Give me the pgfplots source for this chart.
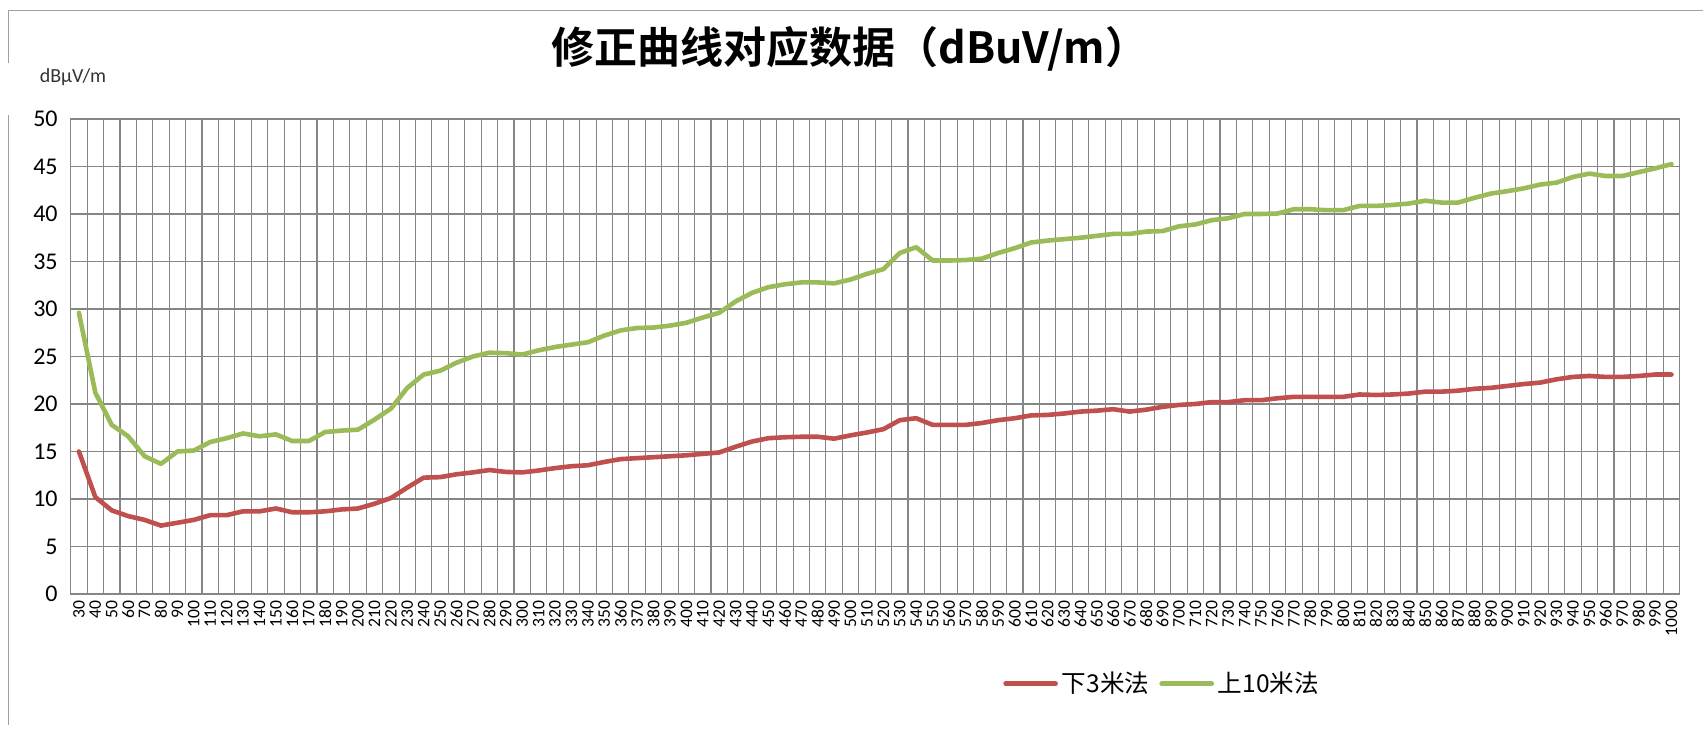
\documentclass[border=0pt]{standalone}
\usepackage{fontspec}
\setmainfont{Carlito}
\newfontfamily\cjk{Noto Sans CJK SC}
\newfontfamily\cjkb{Noto Sans CJK SC Bold}
\usepackage{pgfplots}
\pgfplotsset{compat=1.18}
\usepackage{pgfplotstable}
\definecolor{serred}{RGB}{192,80,77}
\definecolor{sergreen}{RGB}{155,187,89}
\definecolor{gridgray}{RGB}{134,134,134}
\definecolor{framegray}{RGB}{160,160,160}

\pgfplotstableread{
f red green
30 15.0 29.6
40 10.2 21.2
50 8.8 17.8
60 8.2 16.6
70 7.8 14.5
80 7.2 13.7
90 7.5 15.0
100 7.8 15.1
110 8.3 16.0
120 8.3 16.4
130 8.7 16.9
140 8.7 16.6
150 9.0 16.8
160 8.6 16.1
170 8.6 16.1
180 8.7 17.05
190 8.9 17.2
200 9.0 17.3
210 9.5 18.35
220 10.1 19.5
230 11.2 21.7
240 12.25 23.1
250 12.3 23.5
260 12.6 24.35
270 12.8 25.0
280 13.05 25.4
290 12.85 25.35
300 12.8 25.2
310 13.0 25.65
320 13.25 26.0
330 13.45 26.25
340 13.55 26.5
350 13.9 27.2
360 14.2 27.75
370 14.3 28.0
380 14.4 28.05
390 14.5 28.25
400 14.6 28.55
410 14.75 29.1
420 14.9 29.6
430 15.5 30.8
440 16.05 31.7
450 16.4 32.3
460 16.5 32.6
470 16.55 32.8
480 16.55 32.8
490 16.35 32.7
500 16.7 33.1
510 17.0 33.7
520 17.35 34.2
530 18.3 35.9
540 18.5 36.5
550 17.8 35.1
560 17.8 35.1
570 17.8 35.15
580 18.0 35.3
590 18.3 35.9
600 18.5 36.4
610 18.8 37.0
620 18.85 37.2
630 19.0 37.35
640 19.2 37.5
650 19.3 37.7
660 19.45 37.9
670 19.2 37.9
680 19.4 38.15
690 19.7 38.2
700 19.9 38.7
710 20.0 38.9
720 20.2 39.35
730 20.2 39.55
740 20.4 40.0
750 20.4 40.0
760 20.6 40.05
770 20.75 40.5
780 20.75 40.5
790 20.75 40.4
800 20.75 40.4
810 21.0 40.85
820 20.95 40.85
830 21.0 40.95
840 21.1 41.1
850 21.3 41.4
860 21.3 41.2
870 21.4 41.2
880 21.6 41.7
890 21.7 42.15
900 21.9 42.4
910 22.1 42.7
920 22.25 43.1
930 22.6 43.3
940 22.85 43.9
950 22.95 44.25
960 22.85 44.0
970 22.85 44.0
980 22.95 44.4
990 23.1 44.8
1000 23.1 45.25
}\data

\begin{document}
\begin{tikzpicture}
\useasboundingbox (-35.35pt,-69pt) rectangle (816.15pt,297pt);
% chart frame
\draw[framegray, line width=0.6pt] (-31.15pt,291.85pt) -- (816.15pt,291.85pt);
\draw[framegray, line width=0.6pt] (-31.15pt,291.85pt) -- (-31.15pt,265.5pt);
\draw[framegray, line width=0.6pt] (-31.15pt,239.5pt) -- (-31.15pt,-65.5pt);
\begin{axis}[
  at={(0,0)}, anchor=south west,
  scale only axis,
  width=804.5pt, height=237.5pt,
  xmin=-0.5, xmax=97.5, ymin=0, ymax=50,
  ytick={0,5,...,50},
  xtick={0,...,97},
  xticklabel={\pgfmathtruncatemacro\lab{30+10*\tick}\lab},
  minor xtick={-0.5,0.5,...,97.5},
  xminorgrids, ymajorgrids, xmajorgrids=false,
  major tick length=0pt, minor tick length=0pt,
  tick style={draw=none},
  axis line style={draw=gridgray, line width=0.55pt},
  major grid style={draw=gridgray, line width=0.55pt},
  minor grid style={draw=gridgray, line width=0.55pt},
  /pgf/number format/assume math mode=true,
  yticklabel style={font=\fontsize{12}{13}\selectfont, xshift=-3pt},
  xticklabel style={font=\fontsize{8.8}{10}\selectfont, rotate=90, anchor=east, yshift=0pt},
  legend style={at={(0.679,-0.189)}, anchor=center, draw=none, fill=none,
    legend columns=2, font=\cjk\fontsize{12.3}{14}\selectfont,
    /tikz/every even column/.append style={column sep=3pt}},
  legend image code/.code={\draw[#1, line width=2.3pt, line cap=round] (0pt,0pt) -- (25pt,0pt);},
]
\addplot[serred, line width=2.3pt, line join=round, line cap=round] table[x expr=\coordindex, y=red] {\data};
\addlegendentry{下3米法}
\addplot[sergreen, line width=2.3pt, line join=round, line cap=round] table[x expr=\coordindex, y=green] {\data};
\addlegendentry{上10米法}
\end{axis}
\node at (389.65pt,272.5pt) {\cjkb\fontsize{21.5}{24}\selectfont 修正曲线对应数据（dBuV/m）};
\node[text=black!80] at (1.15pt,258.25pt) {\fontsize{10}{12}\selectfont dBμV/m};
\end{tikzpicture}
\end{document}
